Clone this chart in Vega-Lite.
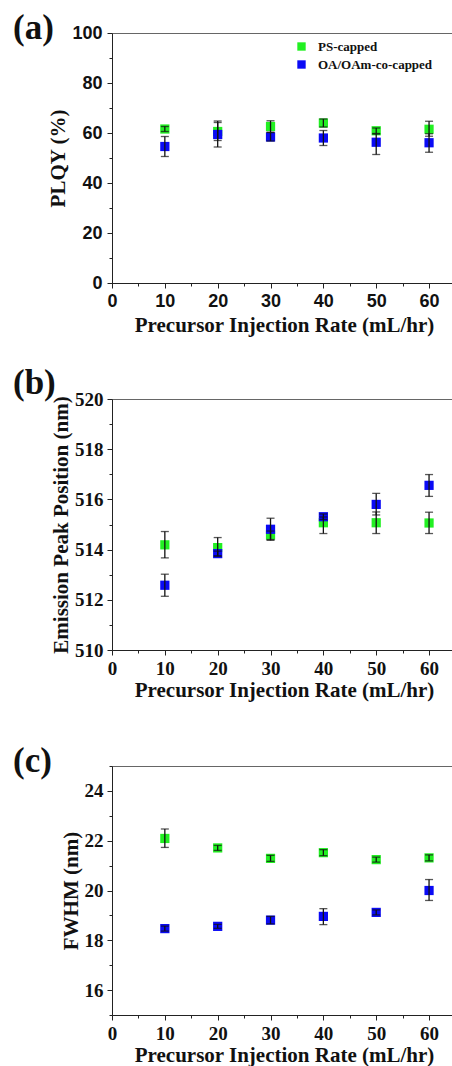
{
  "$schema": "https://vega.github.io/schema/vega-lite/v6.json",
  "padding": {"left": 12, "top": 10, "right": 0, "bottom": 0},
  "autosize": {"type": "pad"},
  "bounds": "flush",
  "spacing": 116,
  "config": {
    "view": {"stroke": "#666", "strokeWidth": 1},
    "axis": {
      "grid": false,
      "domainColor": "#222",
      "tickColor": "#222",
      "labelColor": "#111",
      "titleColor": "#111",
      "labelFont": "Liberation Serif",
      "labelFontWeight": "bold",
      "labelFontSize": 19,
      "titleFont": "Liberation Serif",
      "titleFontWeight": "bold",
      "titleFontSize": 21,
      "tickSize": 5,
      "labelPadding": 4,
      "labelFlush": false,
      "labelOverlap": false
    },
    "axisX": {"titlePadding": 4},
    "axisY": {"titlePadding": 3},
    "legend": {
      "labelFont": "Liberation Serif",
      "labelFontWeight": "bold",
      "labelFontSize": 13,
      "labelColor": "#111",
      "symbolType": "square",
      "symbolSize": 70,
      "symbolStrokeWidth": 0,
      "rowPadding": 4,
      "labelOffset": 10
    },
    "title": {
      "font": "Liberation Serif",
      "fontWeight": "bold",
      "fontSize": 35,
      "anchor": "start",
      "frame": "group",
      "baseline": "alphabetic",
      "offset": 0,
      "color": "#111"
    }
  },
  "datasets": {
    "a": [
      {"rate": 10, "type": "PS-capped", "value": 61.6, "lo": 60.6, "hi": 62.6},
      {"rate": 20, "type": "PS-capped", "value": 60.6, "lo": 57.0, "hi": 64.2},
      {"rate": 30, "type": "PS-capped", "value": 62.6, "lo": 60.3, "hi": 64.9},
      {"rate": 40, "type": "PS-capped", "value": 64.0, "lo": 62.4, "hi": 65.6},
      {"rate": 50, "type": "PS-capped", "value": 60.9, "lo": 59.8, "hi": 62.0},
      {"rate": 60, "type": "PS-capped", "value": 61.5, "lo": 58.7, "hi": 64.7},
      {"rate": 10, "type": "OA/OAm-co-capped", "value": 54.6, "lo": 50.6, "hi": 58.6},
      {"rate": 20, "type": "OA/OAm-co-capped", "value": 59.4, "lo": 54.4, "hi": 64.8},
      {"rate": 30, "type": "OA/OAm-co-capped", "value": 58.4, "lo": 56.8, "hi": 60.2},
      {"rate": 40, "type": "OA/OAm-co-capped", "value": 58.0, "lo": 55.0, "hi": 61.0},
      {"rate": 50, "type": "OA/OAm-co-capped", "value": 56.3, "lo": 51.4, "hi": 59.6},
      {"rate": 60, "type": "OA/OAm-co-capped", "value": 56.1, "lo": 52.3, "hi": 59.7}
    ],
    "b": [
      {"rate": 10, "type": "PS-capped", "value": 514.19, "lo": 513.67, "hi": 514.72},
      {"rate": 20, "type": "PS-capped", "value": 514.08, "lo": 513.75, "hi": 514.48},
      {"rate": 30, "type": "PS-capped", "value": 514.58, "lo": 514.4, "hi": 514.74},
      {"rate": 40, "type": "PS-capped", "value": 515.07, "lo": 514.64, "hi": 515.3},
      {"rate": 50, "type": "PS-capped", "value": 515.07, "lo": 514.64, "hi": 515.5},
      {"rate": 60, "type": "PS-capped", "value": 515.06, "lo": 514.64, "hi": 515.49},
      {"rate": 10, "type": "OA/OAm-co-capped", "value": 512.58, "lo": 512.14, "hi": 513.02},
      {"rate": 20, "type": "OA/OAm-co-capped", "value": 513.84, "lo": 513.74, "hi": 513.94},
      {"rate": 30, "type": "OA/OAm-co-capped", "value": 514.81, "lo": 514.37, "hi": 515.25},
      {"rate": 40, "type": "OA/OAm-co-capped", "value": 515.31, "lo": 515.2, "hi": 515.42},
      {"rate": 50, "type": "OA/OAm-co-capped", "value": 515.8, "lo": 515.38, "hi": 516.24},
      {"rate": 60, "type": "OA/OAm-co-capped", "value": 516.56, "lo": 516.12, "hi": 516.99}
    ],
    "c": [
      {"rate": 10, "type": "PS-capped", "value": 22.09, "lo": 21.73, "hi": 22.47},
      {"rate": 20, "type": "PS-capped", "value": 21.71, "lo": 21.61, "hi": 21.81},
      {"rate": 30, "type": "PS-capped", "value": 21.29, "lo": 21.17, "hi": 21.41},
      {"rate": 40, "type": "PS-capped", "value": 21.52, "lo": 21.4, "hi": 21.64},
      {"rate": 50, "type": "PS-capped", "value": 21.24, "lo": 21.14, "hi": 21.34},
      {"rate": 60, "type": "PS-capped", "value": 21.31, "lo": 21.19, "hi": 21.43},
      {"rate": 10, "type": "OA/OAm-co-capped", "value": 18.47, "lo": 18.37, "hi": 18.57},
      {"rate": 20, "type": "OA/OAm-co-capped", "value": 18.56, "lo": 18.48, "hi": 18.64},
      {"rate": 30, "type": "OA/OAm-co-capped", "value": 18.81, "lo": 18.66, "hi": 18.96},
      {"rate": 40, "type": "OA/OAm-co-capped", "value": 18.96, "lo": 18.63, "hi": 19.27},
      {"rate": 50, "type": "OA/OAm-co-capped", "value": 19.12, "lo": 19.02, "hi": 19.22},
      {"rate": 60, "type": "OA/OAm-co-capped", "value": 20.0, "lo": 19.6, "hi": 20.44}
    ]
  },
  "vconcat": [
    {
      "title": {"text": "(a)", "dx": -99, "dy": 26},
      "width": 344,
      "height": 250,
      "data": {"name": "a"},
      "resolve": {"axis": {"x": "independent", "y": "independent"}},
      "layer": [
        {
          "mark": {"type": "point", "shape": "square", "filled": true, "size": 85, "opacity": 1},
          "encoding": {
            "x": {"field": "rate", "type": "quantitative", "scale": {"domain": [0, 65.1], "nice": false},
              "axis": {"orient": "bottom", "values": [0, 10, 20, 30, 40, 50, 60], "title": "Precursor Injection Rate (mL/hr)",
                "labelFont": "Liberation Sans", "labelFontSize": 18}},
            "y": {"field": "value", "type": "quantitative", "scale": {"domain": [0, 100], "nice": false},
              "axis": {"orient": "left", "values": [0, 20, 40, 60, 80, 100], "title": "PLQY (%)",
                "labelFont": "Liberation Sans", "labelFontSize": 18, "labelPadding": 5}},
            "color": {"field": "type", "type": "nominal",
              "scale": {"domain": ["PS-capped", "OA/OAm-co-capped"], "range": ["#22f022", "#0a0af5"]},
              "legend": {"title": null, "orient": "none", "legendX": 183, "legendY": 7}}
          }
        },
        {
          "mark": {"type": "errorbar", "color": "#111", "thickness": 1.3, "ticks": {"size": 8, "thickness": 1.3, "color": "#111"}},
          "encoding": {
            "x": {"field": "rate", "type": "quantitative",
              "axis": {"orient": "bottom", "values": [5, 15, 25, 35, 45, 55], "labels": false, "domain": false, "tickSize": 3, "title": null}},
            "y": {"field": "lo", "type": "quantitative",
              "axis": {"orient": "left", "values": [10, 30, 50, 70, 90], "labels": false, "domain": false, "tickSize": 3, "title": null}},
            "y2": {"field": "hi"}
          }
        }
      ]
    },
    {
      "title": {"text": "(b)", "dx": -99, "dy": 15},
      "width": 344,
      "height": 251,
      "data": {"name": "b"},
      "resolve": {"axis": {"x": "independent", "y": "independent"}},
      "layer": [
        {
          "mark": {"type": "point", "shape": "square", "filled": true, "size": 85, "opacity": 1},
          "encoding": {
            "x": {"field": "rate", "type": "quantitative", "scale": {"domain": [0, 65.1], "nice": false},
              "axis": {"orient": "bottom", "values": [0, 10, 20, 30, 40, 50, 60], "title": "Precursor Injection Rate (mL/hr)", "titlePadding": 1}},
            "y": {"field": "value", "type": "quantitative", "scale": {"domain": [510, 520], "nice": false, "zero": false},
              "axis": {"orient": "left", "values": [510, 512, 514, 516, 518, 520], "title": "Emission Peak Position (nm)"}},
            "color": {"field": "type", "type": "nominal",
              "scale": {"domain": ["PS-capped", "OA/OAm-co-capped"], "range": ["#22f022", "#0a0af5"]},
              "legend": {"title": null, "orient": "none", "legendX": 185, "legendY": 7}}
          }
        },
        {
          "mark": {"type": "errorbar", "color": "#111", "thickness": 1.3, "ticks": {"size": 8, "thickness": 1.3, "color": "#111"}},
          "encoding": {
            "x": {"field": "rate", "type": "quantitative",
              "axis": {"orient": "bottom", "values": [5, 15, 25, 35, 45, 55], "labels": false, "domain": false, "tickSize": 3, "title": null}},
            "y": {"field": "lo", "type": "quantitative",
              "axis": {"orient": "left", "values": [511, 513, 515, 517, 519], "labels": false, "domain": false, "tickSize": 3, "title": null}},
            "y2": {"field": "hi"}
          }
        }
      ]
    },
    {
      "title": {"text": "(c)", "dx": -99, "dy": 17},
      "width": 344,
      "height": 249,
      "data": {"name": "c"},
      "resolve": {"axis": {"x": "independent", "y": "independent"}},
      "layer": [
        {
          "mark": {"type": "point", "shape": "square", "filled": true, "size": 85, "opacity": 1},
          "encoding": {
            "x": {"field": "rate", "type": "quantitative", "scale": {"domain": [0, 65.1], "nice": false},
              "axis": {"orient": "bottom", "values": [0, 10, 20, 30, 40, 50, 60], "title": "Precursor Injection Rate (mL/hr)", "titlePadding": 1}},
            "y": {"field": "value", "type": "quantitative", "scale": {"domain": [15, 25], "nice": false, "zero": false},
              "axis": {"orient": "left", "values": [16, 18, 20, 22, 24], "title": "FWHM (nm)"}},
            "color": {"field": "type", "type": "nominal",
              "scale": {"domain": ["PS-capped", "OA/OAm-co-capped"], "range": ["#22f022", "#0a0af5"]},
              "legend": {"title": null, "orient": "none", "legendX": 193, "legendY": 7}}
          }
        },
        {
          "mark": {"type": "errorbar", "color": "#111", "thickness": 1.3, "ticks": {"size": 8, "thickness": 1.3, "color": "#111"}},
          "encoding": {
            "x": {"field": "rate", "type": "quantitative",
              "axis": {"orient": "bottom", "values": [5, 15, 25, 35, 45, 55], "labels": false, "domain": false, "tickSize": 3, "title": null}},
            "y": {"field": "lo", "type": "quantitative",
              "axis": {"orient": "left", "values": [15, 17, 19, 21, 23, 25], "labels": false, "domain": false, "tickSize": 3, "title": null}},
            "y2": {"field": "hi"}
          }
        }
      ]
    }
  ]
}
